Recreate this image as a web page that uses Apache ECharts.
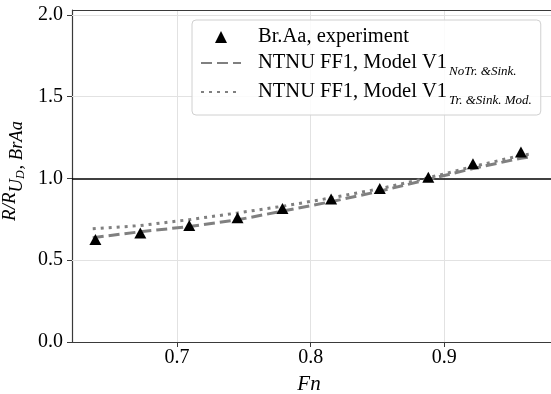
<!DOCTYPE html>
<html><head><meta charset="utf-8">
<script src="https://cdn.jsdelivr.net/npm/echarts@6/dist/echarts.min.js"></script>
<style>html,body{margin:0;padding:0;background:#fff;overflow:hidden}#c{width:551px;height:394px}</style>
</head><body><div id="c"></div>
<script>
// Experimental data (Br.Aa)
const fnExp = [0.639, 0.6726, 0.7092, 0.7453, 0.7789, 0.8153, 0.8517, 0.888, 0.9214, 0.9573];
const rExp  = [0.626, 0.667, 0.712, 0.759, 0.816, 0.875, 0.939, 1.008, 1.090, 1.161];
// Model curves (NTNU FF1, Model V1)
const fnModel = [0.637, 0.6726, 0.7092, 0.7453, 0.7789, 0.8153, 0.8517, 0.888, 0.9214, 0.9573, 0.965];
const rNoTr   = [0.638, 0.674, 0.706, 0.747, 0.800, 0.858, 0.922, 0.994, 1.061, 1.124, 1.133];
const rTrMod  = [0.692, 0.712, 0.748, 0.789, 0.830, 0.881, 0.937, 1.004, 1.072, 1.141, 1.150];
// Tick labels
const xTicks = [0.7, 0.8, 0.9];
const yTicks = [0.0, 0.5, 1.0, 1.5, 2.0];
const names = ['Br.Aa, experiment', 'NTNU FF1, Model V1 NoTr.&Sink.', 'NTNU FF1, Model V1 Tr.&Sink.Mod.'];
const legendRich = {
  'Br.Aa, experiment': 'Br.Aa, experiment',
  'NTNU FF1, Model V1 NoTr.&Sink.': 'NTNU FF1, Model V1{sub|NoTr. &Sink.}',
  'NTNU FF1, Model V1 Tr.&Sink.Mod.': 'NTNU FF1, Model V1{sub|Tr. &Sink. Mod.}'
};
const zip = (a, b) => a.map((v, i) => [v, b[i]]);
const FONT = 'Liberation Serif';
const chart = echarts.init(document.getElementById('c'), null, {renderer: 'canvas'});
const axisColor = '#3a3a3a';
const gridColor = '#e2e2e2';
const hidden = {color: 'rgba(0,0,0,0)', borderWidth: 0};
const X_MIN = 0.6215, X_MAX = 0.98351, Y_MIN = 0, Y_MAX = 2.03;
// grid lines built from the tick arrays (excluding the bottom axis at 0)
const gridLines = xTicks.map(v => ({xAxis: v})).concat(yTicks.filter(v => v > 0 && v !== 1).map(v => ({yAxis: v})));
chart.setOption({
  animation: false,
  backgroundColor: '#fff',
  textStyle: {fontFamily: FONT},
  grid: {left: 72, width: 484, top: 10, bottom: 52, containLabel: false, outerBoundsMode: 'none'},
  legend: {
    orient: 'vertical', left: 192, top: 20,
    padding: [5, 9, 8, 8],
    itemWidth: 40, itemHeight: 12, itemGap: 2,
    symbolKeepAspect: true,
    backgroundColor: 'rgba(255,255,255,0.85)',
    borderColor: '#d0d0d0', borderWidth: 1, borderRadius: 4,
    data: [
      {name: names[0], icon: 'path://M0,-1L1,1L-1,1Z'},
      {name: names[1], itemStyle: hidden},
      {name: names[2], itemStyle: hidden}
    ],
    formatter: n => legendRich[n],
    textStyle: {
      fontFamily: FONT, fontSize: 20.5, lineHeight: 24, color: '#000', padding: [0, 0, 0, 12],
      rich: {
        sub: {fontFamily: FONT, fontStyle: 'italic', fontSize: 13, lineHeight: 24, padding: [8.5, 0, -8.5, 2], color: '#000'}
      }
    }
  },
  xAxis: {
    type: 'value', min: X_MIN, max: X_MAX,
    name: 'Fn', nameLocation: 'middle', nameGap: 32,
    nameTextStyle: {fontFamily: FONT, fontStyle: 'italic', fontSize: 21, color: '#000', padding: [0, 10, 0, 0]},
    axisLine: {show: true, onZero: false, lineStyle: {color: axisColor, width: 1.2}},
    axisTick: {show: true, inside: false, length: 5, customValues: xTicks, lineStyle: {color: axisColor, width: 1}},
    axisLabel: {fontFamily: FONT, fontSize: 20, color: '#000', margin: 6, customValues: xTicks,
      formatter: v => v.toFixed(1)},
    splitLine: {show: false}
  },
  yAxis: {
    type: 'value', min: Y_MIN, max: Y_MAX,
    name: 'R/R{sub|U}{subsub|D}{sub|, BrAa}', nameLocation: 'middle', nameRotate: 90, nameGap: 39,
    nameTextStyle: {
      fontFamily: FONT, fontStyle: 'italic', fontSize: 19, lineHeight: 24, color: '#000', padding: [0, 0, 0, 10],
      rich: {
        sub: {fontFamily: FONT, fontStyle: 'italic', fontSize: 18.5, lineHeight: 24, padding: [7, 0, -7, 0], color: '#000'},
        subsub: {fontFamily: FONT, fontStyle: 'italic', fontSize: 12, lineHeight: 24, padding: [11, 1, -11, 0], color: '#000'}
      }
    },
    axisLine: {show: true, onZero: false, lineStyle: {color: axisColor, width: 1.2}},
    axisTick: {show: true, inside: false, length: 5, customValues: yTicks, lineStyle: {color: axisColor, width: 1}},
    axisLabel: {fontFamily: FONT, fontSize: 20, color: '#000', margin: 9, customValues: yTicks,
      formatter: v => v.toFixed(1)},
    splitLine: {show: false}
  },
  series: [
    {
      name: names[1], type: 'line', data: zip(fnModel, rNoTr),
      showSymbol: false, symbol: 'none', smooth: false, z: 3,
      lineStyle: {color: '#808080', width: 3, type: [11, 5], cap: 'butt'},
      itemStyle: {color: '#808080'},
      markLine: {
        silent: true, z: 1, symbol: ['none', 'none'], label: {show: false},
        lineStyle: {color: gridColor, width: 1, type: 'solid'},
        emphasis: {disabled: true},
        data: gridLines
      }
    },
    {
      name: names[2], type: 'line', data: zip(fnModel, rTrMod),
      showSymbol: false, symbol: 'none', smooth: false, z: 3,
      lineStyle: {color: '#808080', width: 3, type: [3, 5], cap: 'butt'},
      itemStyle: {color: '#808080'},
      markLine: {
        silent: true, z: 2, symbol: ['none', 'none'], label: {show: false},
        lineStyle: {color: axisColor, width: 1.2, type: 'solid'},
        emphasis: {disabled: true},
        data: [{yAxis: Y_MAX}]
      }
    },
    {
      name: names[0], type: 'scatter', data: zip(fnExp, rExp),
      symbol: 'triangle', symbolSize: [12, 11], z: 5,
      itemStyle: {color: '#000', opacity: 1},
      markLine: {
        silent: true, z: 2, symbol: ['none', 'none'], label: {show: false},
        lineStyle: {color: '#000', width: 1.5, type: 'solid'},
        emphasis: {disabled: true},
        data: [{yAxis: 1.0}]
      }
    }
  ]
});
</script>
</body></html>
